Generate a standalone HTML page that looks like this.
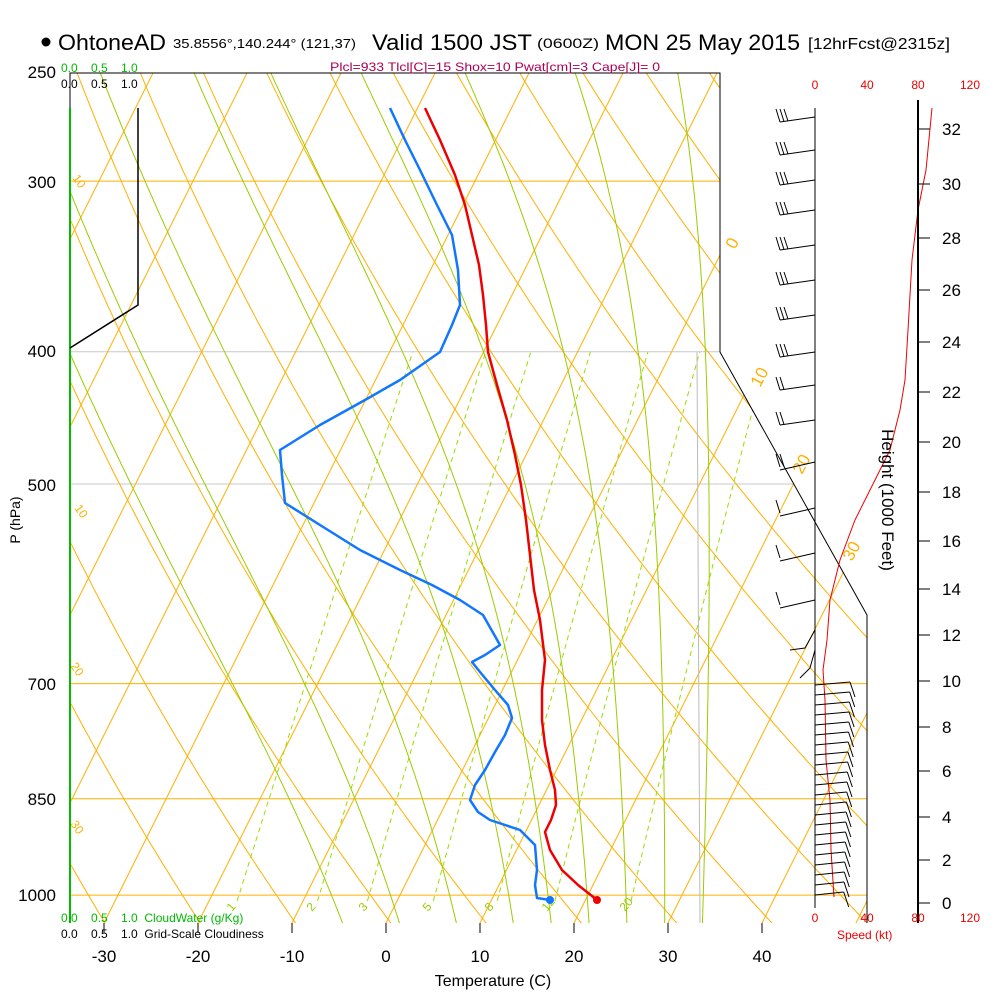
<!DOCTYPE html>
<html><head><meta charset="utf-8"><style>
body{margin:0;background:#fff}
svg{display:block;font-family:"Liberation Sans",sans-serif}
</style></head><body>
<svg id="s" width="1000" height="1000" viewBox="0 0 1000 1000" xmlns="http://www.w3.org/2000/svg">
<defs><clipPath id="c"><polygon points="70,73 720,73 720,352 867,615 867,923 70,923"/></clipPath></defs>
<g id="grid" clip-path="url(#c)"></g>
<g id="fg"></g>
</svg>
<script>
const NS="http://www.w3.org/2000/svg";
const g=document.getElementById('grid'),fg=document.getElementById('fg');
function el(p,tag,a,t){const e=document.createElementNS(NS,tag);for(const k in a)e.setAttribute(k,a[k]);if(t!==undefined)e.textContent=t;p.appendChild(e);return e;}
const Y=p=>73+593*Math.log(p/250);
const X=(T,p)=>386+9.4*T+0.5*(923-Y(p));
function pl(par,pts,st){el(par,'polyline',Object.assign({points:pts.map(q=>q[0].toFixed(1)+','+q[1].toFixed(1)).join(' '),fill:'none'},st));}
// horizontal lines
[[300,'#ffb000'],[400,'#c8c8c8'],[500,'#c8c8c8'],[700,'#ffb000'],[850,'#ffb000'],[1000,'#ffb000']].forEach(([p,c])=>el(g,'line',{x1:70,x2:870,y1:Y(p),y2:Y(p),stroke:c,'stroke-width':1}));
const ps=[];for(let p=1060;p>=240;p-=5)ps.push(p);
// isotherms
for(let T=-140;T<=60;T+=10)pl(g,[[X(T,1060),Y(1060)],[X(T,240),Y(240)]],{stroke:'#ffb000','stroke-width':1});
// dry adiabats
for(let th=220;th<=500;th+=10)pl(g,ps.map(p=>[X(th*Math.pow(p/1000,0.286)-273.15,p),Y(p)]),{stroke:'#ffb000','stroke-width':1});
// mixing ratio
function td(w,p){const e=w*p/(622+w);const l=Math.log(e/6.112);return 243.5*l/(17.67-l);}
const ws=[1,2,3,5,8,12,20];
ws.forEach(w=>{const pts=[];for(let p=1010;p>=400;p-=10)pts.push([X(td(w,p),p),Y(p)]);pl(g,pts,{stroke:'#99dd00','stroke-width':1,'stroke-dasharray':'5,4'});});
// moist adiabats
function es(T){return 6.112*Math.exp(17.67*T/(T+243.5));}
function moist(T0){let T=T0,pts=[];for(let p=1060;p>=240;p-=2){pts.push([X(T,p),Y(p)]);const Tk=T+273.15;const rs=0.622*es(T)/(p-es(T));const Lv=2.5e6,Rd=287,cp=1004,eps=0.622;
const dTdp=(Rd*Tk+Lv*rs)/(cp+Lv*Lv*rs*eps/(Rd*Tk*Tk))/p;T-=dTdp*2;}return pts;}
[-4,2,8,14,18,22,26,30,34].forEach(t=>pl(g,moist(t),{stroke:'#99cc00','stroke-width':1}));
el(g,'line',{x1:700,y1:923,x2:697,y2:352,stroke:'#bbb','stroke-width':1});
// mixing labels
[[1,232],[2,312],[3,364],[5,428],[8,490],[12,547],[20,625]].forEach(([w,x])=>el(fg,'text',{x:x,y:912,'font-size':12,fill:'#99cc00',transform:`rotate(-50 ${x} 912)`},w));
// isotherm labels
[['0',735,250],['10',760,388],['20',802,475],['30',852,562]].forEach(([t,x,y])=>el(fg,'text',{x,y,'font-size':17,fill:'#ffb000',transform:`rotate(-62 ${x} ${y})`},t));
[['10',72,178],['10',74,508],['20',70,666],['30',70,824]].forEach(([t,x,y])=>el(fg,'text',{x,y,'font-size':12,fill:'#ffb000',transform:`rotate(55 ${x} ${y})`},t));
// frame
pl(fg,[[70,923],[70,73],[720,73],[720,352],[867,615],[867,923]],{stroke:'#000','stroke-width':1});
el(fg,'line',{x1:70,y1:108,x2:70,y2:923,stroke:'#00bb00','stroke-width':2});
pl(fg,[[138,108],[138,305],[70,348]],{stroke:'#000','stroke-width':1.5});
el(fg,'line',{x1:815,y1:108,x2:815,y2:908,stroke:'#000','stroke-width':1});
// profiles
const red=[[425,108],[440,140],[455,175],[465,205],[472,235],[479,265],[483,295],[486,325],[488,352],[497,385],[507,420],[515,455],[521,485],[526,520],[530,555],[534,590],[540,620],[545,660],[542,690],[542,720],[545,745],[550,770],[555,790],[556,805],[551,820],[545,832],[550,850],[562,870],[578,885],[592,896],[597,900]];
const blue=[[390,108],[405,140],[420,170],[437,205],[452,235],[458,270],[460,305],[452,325],[440,352],[400,380],[365,400],[320,425],[280,450],[282,475],[285,503],[320,525],[360,550],[400,570],[432,585],[460,600],[483,615],[500,645],[485,655],[472,662],[480,672],[495,690],[508,705],[512,718],[505,735],[495,752],[485,770],[475,785],[470,800],[478,812],[490,820],[520,830],[535,845],[537,870],[535,885],[537,898],[550,900]];
pl(fg,blue,{stroke:'#1177ff','stroke-width':2.5,'stroke-linejoin':'round'});
pl(fg,red,{stroke:'#ee0000','stroke-width':2.5,'stroke-linejoin':'round'});
el(fg,'circle',{cx:597,cy:900,r:4,fill:'#ee0000'});el(fg,'circle',{cx:550,cy:900,r:4,fill:'#1177ff'});
// speed line
pl(fg,[[932,108],[926,170],[918,210],[912,260],[908,330],[905,380],[900,410],[890,450],[870,490],[855,520],[840,560],[830,600],[827,640],[823,670],[825,700],[826,760],[830,800],[831,850],[834,897]],{stroke:'#ee0000','stroke-width':1});
// barbs upper
[117,150,180,210,245,280,315,352,385,420,462,508,553,600].forEach((y,i)=>{
 el(fg,'line',{x1:815,y1:y,x2:780,y2:y+ (i>9?8:5),stroke:'#000','stroke-width':1});
 const n=i<8?3:(i<11?2:1);for(let k=0;k<n;k++){const x=780+k*4;el(fg,'line',{x1:x,y1:y+5-k*0.5,x2:x-4,y2:y-8,stroke:'#000','stroke-width':1});}
});
pl(fg,[[815,630],[805,648],[790,650]],{stroke:'#000','stroke-width':1});
pl(fg,[[815,650],[810,668],[800,678]],{stroke:'#000','stroke-width':1});
// barbs lower
for(let y=685;y<=895;y+=10){const ex=850-(y-685)*0.03;el(fg,'line',{x1:815,y1:y,x2:ex,y2:y-3,stroke:'#000','stroke-width':1});el(fg,'line',{x1:ex,y1:y-3,x2:ex+5,y2:y+12,stroke:'#000','stroke-width':1});}
// height axis
el(fg,'line',{x1:918,y1:100,x2:918,y2:923,stroke:'#000','stroke-width':2});
const hy=[903,860,817,771,727,681,635,589,541,492,442,392,342,290,238,184,129];
hy.forEach((y,i)=>{el(fg,'line',{x1:918,y1:y,x2:930,y2:y,stroke:'#000','stroke-width':1});el(fg,'text',{x:942,y:y+6,'font-size':17},i*2);});
el(fg,'text',{x:882,y:500,'font-size':17,'text-anchor':'middle',transform:'rotate(90 882 500)'},'Height (1000 Feet)');
// speed labels
[[815,'0'],[867,'40'],[918,'80'],[970,'120']].forEach(([x,t])=>{el(fg,'text',{x,y:89,'font-size':12,fill:'#ee0000','text-anchor':'middle'},t);el(fg,'text',{x,y:922,'font-size':12,fill:'#ee0000','text-anchor':'middle'},t);});
el(fg,'text',{x:837,y:939,'font-size':12,fill:'#ee0000'},'Speed (kt)');
// pressure labels
[[250,78],[300,188],[400,357],[500,491],[700,690],[850,805],[1000,901]].forEach(([p,y])=>el(fg,'text',{x:56,y,'font-size':17,'text-anchor':'end'},p));
el(fg,'text',{x:20,y:520,'font-size':14,'text-anchor':'middle',transform:'rotate(-90 20 520)'},'P (hPa)');
// temperature labels
[-30,-20,-10,0,10,20,30,40].forEach(T=>{const x=386+9.4*T;el(fg,'line',{x1:x,y1:923,x2:x,y2:933,stroke:'#000'});el(fg,'text',{x,y:962,'font-size':17,'text-anchor':'middle'},T);});
el(fg,'text',{x:493,y:986,'font-size':16,'text-anchor':'middle'},'Temperature (C)');
// small labels
el(fg,'text',{x:61,y:72,'font-size':12,fill:'#00bb00'},'0.0\u00a0\u00a0\u00a0\u00a00.5\u00a0\u00a0\u00a0\u00a01.0');
el(fg,'text',{x:61,y:88,'font-size':12},'0.0\u00a0\u00a0\u00a0\u00a00.5\u00a0\u00a0\u00a0\u00a01.0');
el(fg,'text',{x:61,y:922,'font-size':12,fill:'#00bb00'},'0.0\u00a0\u00a0\u00a0\u00a00.5\u00a0\u00a0\u00a0\u00a01.0\u00a0\u00a0CloudWater (g/Kg)');
el(fg,'text',{x:61,y:938,'font-size':12},'0.0\u00a0\u00a0\u00a0\u00a00.5\u00a0\u00a0\u00a0\u00a01.0\u00a0\u00a0Grid-Scale Cloudiness');
el(fg,'text',{x:495,y:71,'font-size':12,fill:'#aa0055','text-anchor':'middle',textLength:330,lengthAdjust:'spacingAndGlyphs'},'Plcl=933 Tlcl[C]=15 Shox=10 Pwat[cm]=3 Cape[J]= 0');
// title
el(fg,'circle',{cx:46,cy:42,r:4.5,fill:'#000'});
el(fg,'text',{x:58,y:50,'font-size':22,textLength:108,lengthAdjust:'spacingAndGlyphs'},'OhtoneAD');
el(fg,'text',{x:173,y:48,'font-size':13,textLength:183,lengthAdjust:'spacingAndGlyphs'},'35.8556°,140.244° (121,37)');
el(fg,'text',{x:372,y:50,'font-size':22,textLength:160,lengthAdjust:'spacingAndGlyphs'},'Valid 1500 JST');
el(fg,'text',{x:537,y:48,'font-size':14,textLength:62,lengthAdjust:'spacingAndGlyphs'},'(0600Z)');
el(fg,'text',{x:605,y:50,'font-size':22,textLength:195,lengthAdjust:'spacingAndGlyphs'},'MON 25 May 2015');
el(fg,'text',{x:808,y:49,'font-size':16,textLength:142,lengthAdjust:'spacingAndGlyphs'},'[12hrFcst@2315z]');
</script>
</body></html>
